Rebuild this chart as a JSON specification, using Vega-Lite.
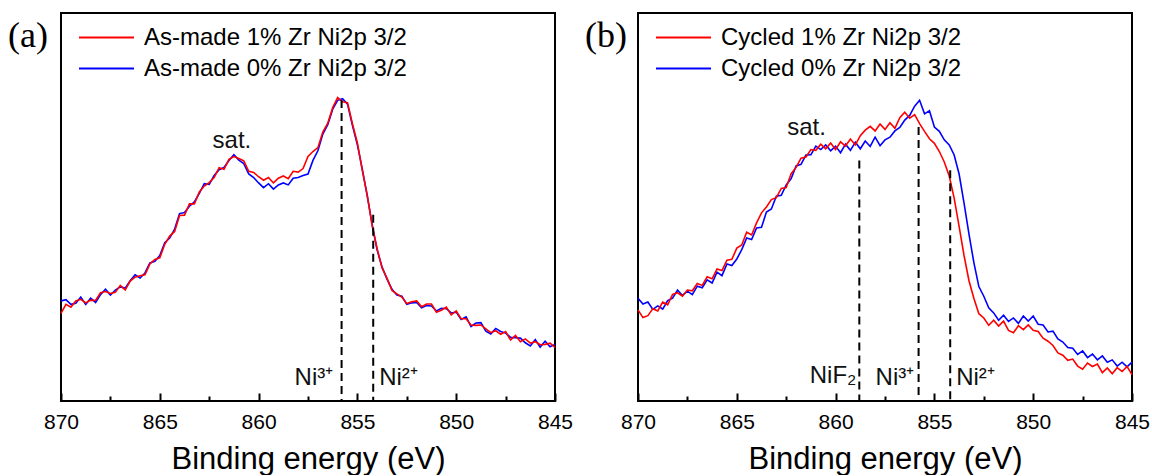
{
  "$schema": "https://vega.github.io/schema/vega-lite/v6.json",
  "background": "white",
  "padding": {"left": 7, "top": 12, "right": 2, "bottom": 0},
  "spacing": 83,
  "bounds": "flush",
  "resolve": {"scale": {"color": "independent"}, "legend": {"color": "independent"}},
  "config": {
    "view": {"stroke": "black", "strokeWidth": 2},
    "font": "Liberation Sans",
    "axis": {"grid": false, "labelColor": "black", "titleColor": "black"}
  },
  "datasets": {
    "xps": [
      {"E":870,"a1":22.6,"a0":25.8,"b1":23.5,"b0":26.5},
      {"E":869.75,"a1":24.9,"a0":26.1,"b1":21.5,"b0":25.0},
      {"E":869.5,"a1":24.2,"a0":24.9,"b1":22.0,"b0":25.5},
      {"E":869.25,"a1":25.8,"a0":25.2,"b1":23.8,"b0":23.6},
      {"E":869,"a1":26.2,"a0":26.8,"b1":23.2,"b0":24.5},
      {"E":868.75,"a1":25.3,"a0":24.9,"b1":25.5,"b0":23.7},
      {"E":868.5,"a1":26.0,"a0":26.5,"b1":24.8,"b0":25.9},
      {"E":868.25,"a1":25.9,"a0":25.4,"b1":27.5,"b0":26.5},
      {"E":868,"a1":27.9,"a0":27.4,"b1":27.9,"b0":28.6},
      {"E":867.75,"a1":28.2,"a0":28.8,"b1":27.0,"b0":27.2},
      {"E":867.5,"a1":27.7,"a0":27.3,"b1":28.6,"b0":28.3},
      {"E":867.25,"a1":28.0,"a0":28.6,"b1":28.4,"b0":27.4},
      {"E":867,"a1":29.8,"a0":29.4,"b1":30.3,"b0":29.6},
      {"E":866.75,"a1":28.6,"a0":29.1,"b1":29.8,"b0":29.2},
      {"E":866.5,"a1":30.9,"a0":31.0,"b1":32.0,"b0":31.2},
      {"E":866.25,"a1":31.9,"a0":32.5,"b1":31.5,"b0":30.4},
      {"E":866,"a1":32.3,"a0":31.7,"b1":34.0,"b0":33.2},
      {"E":865.75,"a1":32.5,"a0":33.0,"b1":33.6,"b0":32.3},
      {"E":865.5,"a1":35.3,"a0":35.6,"b1":36.3,"b0":35.3},
      {"E":865.25,"a1":36.5,"a0":36.0,"b1":36.5,"b0":34.9},
      {"E":865,"a1":36.9,"a0":37.5,"b1":39.4,"b0":36.6},
      {"E":864.75,"a1":40.4,"a0":40.8,"b1":40.2,"b0":39.0},
      {"E":864.5,"a1":42.5,"a0":42.0,"b1":43.5,"b0":42.0},
      {"E":864.25,"a1":43.7,"a0":44.3,"b1":42.8,"b0":41.6},
      {"E":864,"a1":47.8,"a0":48.3,"b1":45.9,"b0":44.6},
      {"E":863.75,"a1":47.9,"a0":48.6,"b1":48.5,"b0":44.8},
      {"E":863.5,"a1":50.8,"a0":50.2,"b1":50.0,"b0":48.7},
      {"E":863.25,"a1":50.8,"a0":51.3,"b1":51.9,"b0":49.5},
      {"E":863,"a1":53.9,"a0":53.5,"b1":52.4,"b0":52.8},
      {"E":862.75,"a1":55.4,"a0":56.0,"b1":54.8,"b0":53.0},
      {"E":862.5,"a1":56.3,"a0":55.8,"b1":55.0,"b0":55.7},
      {"E":862.25,"a1":57.6,"a0":58.1,"b1":58.6,"b0":57.3},
      {"E":862,"a1":60.1,"a0":59.6,"b1":60.2,"b0":60.6},
      {"E":861.75,"a1":59.7,"a0":60.2,"b1":62.6,"b0":61.0},
      {"E":861.5,"a1":62.3,"a0":62.0,"b1":62.9,"b0":63.4},
      {"E":861.25,"a1":63.0,"a0":63.5,"b1":64.8,"b0":63.5},
      {"E":861,"a1":62.5,"a0":62.1,"b1":64.6,"b0":65.7},
      {"E":860.75,"a1":61.9,"a0":61.2,"b1":66.2,"b0":64.8},
      {"E":860.5,"a1":59.2,"a0":58.5,"b1":65.0,"b0":66.0},
      {"E":860.25,"a1":58.9,"a0":57.6,"b1":66.5,"b0":64.5},
      {"E":860,"a1":57.8,"a0":56.2,"b1":64.8,"b0":65.7},
      {"E":859.75,"a1":56.9,"a0":55.0,"b1":66.8,"b0":64.0},
      {"E":859.5,"a1":57.6,"a0":56.0,"b1":65.7,"b0":66.2},
      {"E":859.25,"a1":56.2,"a0":54.6,"b1":67.5,"b0":64.6},
      {"E":859,"a1":57.4,"a0":55.7,"b1":66.0,"b0":66.7},
      {"E":858.75,"a1":58.0,"a0":56.2,"b1":68.4,"b0":65.0},
      {"E":858.5,"a1":57.3,"a0":55.7,"b1":69.8,"b0":67.0},
      {"E":858.25,"a1":59.2,"a0":57.4,"b1":70.8,"b0":65.6},
      {"E":858,"a1":59.0,"a0":57.6,"b1":69.6,"b0":68.0},
      {"E":857.75,"a1":59.9,"a0":58.1,"b1":71.4,"b0":65.8},
      {"E":857.5,"a1":63.0,"a0":58.5,"b1":70.0,"b0":67.3},
      {"E":857.25,"a1":64.3,"a0":62.0,"b1":71.7,"b0":68.0},
      {"E":857,"a1":65.3,"a0":64.5,"b1":70.3,"b0":69.6},
      {"E":856.75,"a1":69.3,"a0":68.8,"b1":73.0,"b0":70.5},
      {"E":856.5,"a1":71.6,"a0":71.2,"b1":74.4,"b0":72.4},
      {"E":856.25,"a1":75.6,"a0":75.2,"b1":72.9,"b0":73.6},
      {"E":856,"a1":78.2,"a0":77.5,"b1":73.8,"b0":76.0},
      {"E":855.75,"a1":77.1,"a0":77.9,"b1":71.5,"b0":77.5},
      {"E":855.5,"a1":76.9,"a0":76.5,"b1":69.5,"b0":74.0},
      {"E":855.25,"a1":71.4,"a0":71.0,"b1":67.6,"b0":74.8},
      {"E":855,"a1":66.5,"a0":66.0,"b1":66.4,"b0":70.6},
      {"E":854.75,"a1":59.4,"a0":59.7,"b1":64.3,"b0":69.5},
      {"E":854.5,"a1":53.0,"a0":52.8,"b1":61.6,"b0":67.3},
      {"E":854.25,"a1":45.1,"a0":45.4,"b1":58.0,"b0":66.0},
      {"E":854,"a1":39.2,"a0":38.9,"b1":52.3,"b0":63.4},
      {"E":853.75,"a1":34.3,"a0":34.5,"b1":45.0,"b0":58.5},
      {"E":853.5,"a1":31.6,"a0":31.4,"b1":37.5,"b0":51.0},
      {"E":853.25,"a1":28.5,"a0":28.8,"b1":31.0,"b0":43.0},
      {"E":853,"a1":27.6,"a0":27.3,"b1":26.4,"b0":35.6},
      {"E":852.75,"a1":26.8,"a0":27.0,"b1":22.5,"b0":29.5},
      {"E":852.5,"a1":25.1,"a0":24.9,"b1":21.4,"b0":27.0},
      {"E":852.25,"a1":25.6,"a0":25.3,"b1":19.5,"b0":24.0},
      {"E":852,"a1":25.8,"a0":25.4,"b1":20.8,"b0":22.7},
      {"E":851.75,"a1":24.3,"a0":24.0,"b1":19.3,"b0":20.8},
      {"E":851.5,"a1":25.0,"a0":24.6,"b1":20.6,"b0":22.1},
      {"E":851.25,"a1":25.0,"a0":24.5,"b1":18.2,"b0":20.5},
      {"E":851,"a1":22.9,"a0":23.2,"b1":17.6,"b0":21.4},
      {"E":850.75,"a1":23.4,"a0":23.9,"b1":19.4,"b0":20.0},
      {"E":850.5,"a1":24.2,"a0":23.8,"b1":18.4,"b0":21.9},
      {"E":850.25,"a1":22.2,"a0":22.7,"b1":19.6,"b0":20.6},
      {"E":850,"a1":23.2,"a0":22.9,"b1":18.2,"b0":21.9},
      {"E":849.75,"a1":21.2,"a0":21.0,"b1":17.9,"b0":19.8},
      {"E":849.5,"a1":21.2,"a0":21.7,"b1":16.2,"b0":19.6},
      {"E":849.25,"a1":19.6,"a0":19.2,"b1":15.4,"b0":17.8},
      {"E":849,"a1":19.5,"a0":20.1,"b1":14.3,"b0":18.0},
      {"E":848.75,"a1":19.6,"a0":20.2,"b1":12.4,"b0":16.0},
      {"E":848.5,"a1":18.6,"a0":18.0,"b1":11.8,"b0":15.2},
      {"E":848.25,"a1":17.6,"a0":17.3,"b1":10.5,"b0":13.8},
      {"E":848,"a1":18.1,"a0":18.7,"b1":10.8,"b0":13.6},
      {"E":847.75,"a1":17.2,"a0":17.9,"b1":9.0,"b0":12.0},
      {"E":847.5,"a1":17.9,"a0":17.5,"b1":8.2,"b0":12.9},
      {"E":847.25,"a1":15.7,"a0":16.4,"b1":9.8,"b0":11.2},
      {"E":847,"a1":16.9,"a0":16.3,"b1":8.9,"b0":12.1},
      {"E":846.75,"a1":15.3,"a0":16.2,"b1":9.5,"b0":10.6},
      {"E":846.5,"a1":16.0,"a0":15.0,"b1":7.3,"b0":11.6},
      {"E":846.25,"a1":14.9,"a0":14.2,"b1":8.5,"b0":10.0},
      {"E":846,"a1":15.3,"a0":15.8,"b1":7.0,"b0":10.6},
      {"E":845.75,"a1":14.5,"a0":13.9,"b1":8.6,"b0":9.0},
      {"E":845.5,"a1":14.6,"a0":15.4,"b1":7.6,"b0":10.0},
      {"E":845.25,"a1":14.9,"a0":14.0,"b1":8.9,"b0":8.8},
      {"E":845,"a1":13.8,"a0":14.6,"b1":6.8,"b0":10.0}
    ],
    "peaks_a": [
      {"E":855.8,"top":77.6},
      {"E":854.2,"top":48}
    ],
    "peaks_b": [
      {"E":858.8,"top":62},
      {"E":855.8,"top":70.6},
      {"E":854.2,"top":59.5}
    ],
    "labels_a": [
      {"E":861.35,"v":65.2,"label":"sat."},
      {"E":857.2,"v":4.1,"label":"Ni³⁺"},
      {"E":852.92,"v":4.1,"label":"Ni²⁺"}
    ],
    "labels_b": [
      {"E":861.47,"v":68.6,"label":"sat."},
      {"E":860.13,"v":4.6,"label":"NiF₂"},
      {"E":857.0,"v":4.1,"label":"Ni³⁺"},
      {"E":852.92,"v":4.1,"label":"Ni²⁺"}
    ]
  },
  "hconcat": [
    {
      "width": 494,
      "height": 388,
      "title": {"text": "(a)", "anchor": "start", "frame": "group", "orient": "none", "dx": -53, "dy": 34, "baseline": "alphabetic", "font": "Liberation Serif", "fontSize": 36, "fontWeight": "normal", "color": "black"},
      "resolve": {"axis": {"x": "independent"}},
      "layer": [
        {
          "data": {"name": "xps"},
          "transform": [{"fold": ["a1", "a0"], "as": ["series", "v"]}, {"filter": "datum.series == 'a0'"}],
          "mark": {"type": "line", "strokeWidth": 1.6},
          "encoding": {
            "x": {"field": "E", "type": "quantitative",
              "scale": {"domain": [845, 870], "reverse": true, "nice": false, "zero": false},
              "axis": {"orient": "bottom", "values": [870, 865, 860, 855, 850, 845], "format": "d", "tickSize": -8, "tickWidth": 2, "tickColor": "black", "domain": false, "labelFontSize": 21, "labelPadding": 18, "labelFlush": false, "labelOverlap": false, "title": "Binding energy (eV)", "titleFontSize": 31, "titleFontWeight": "normal", "titlePadding": 12}},
            "y": {"field": "v", "type": "quantitative",
              "scale": {"domain": [0, 100], "nice": false, "zero": false},
              "axis": null},
            "color": {"field": "series", "type": "nominal",
              "scale": {"domain": ["a1", "a0"], "range": ["#ff0000", "#0000ff"]},
              "legend": {"title": null, "orient": "none", "legendX": 17, "legendY": 10, "symbolType": "stroke", "symbolSize": 3025, "symbolStrokeWidth": 2, "labelFontSize": 24, "labelColor": "black", "clipHeight": 29, "rowPadding": 2, "labelOffset": 9, "padding": 0, "labelLimit": 500,
                "labelExpr": "datum.label == 'a1' ? 'As-made 1% Zr Ni2p 3/2' : 'As-made 0% Zr Ni2p 3/2'"}}
          }
        },
        {
          "data": {"name": "xps"},
          "transform": [{"fold": ["a1", "a0"], "as": ["series", "v"]}, {"filter": "datum.series == 'a1'"}],
          "mark": {"type": "line", "strokeWidth": 1.6},
          "encoding": {
            "x": {"field": "E", "type": "quantitative", "axis": null},
            "y": {"field": "v", "type": "quantitative", "axis": null},
            "color": {"field": "series", "type": "nominal", "legend": null}
          }
        },
        {
          "data": {"name": "peaks_a"},
          "mark": {"type": "rule", "strokeDash": [8, 5], "strokeWidth": 2, "color": "black"},
          "encoding": {
            "x": {"field": "E", "type": "quantitative",
              "axis": {"orient": "bottom", "values": [867.5, 862.5, 857.5, 852.5, 847.5], "tickSize": -5, "tickWidth": 2, "tickColor": "black", "labels": false, "domain": false, "title": null}},
            "y": {"field": "top", "type": "quantitative", "axis": null},
            "y2": {"datum": 0}
          }
        },
        {
          "data": {"name": "labels_a"},
          "mark": {"type": "text", "fontSize": 24, "color": "#111111", "align": "center", "baseline": "alphabetic"},
          "encoding": {
            "x": {"field": "E", "type": "quantitative", "axis": null},
            "y": {"field": "v", "type": "quantitative", "axis": null},
            "text": {"field": "label"}
          }
        }
      ]
    },
    {
      "width": 494,
      "height": 388,
      "title": {"text": "(b)", "anchor": "start", "frame": "group", "orient": "none", "dx": -53, "dy": 34, "baseline": "alphabetic", "font": "Liberation Serif", "fontSize": 36, "fontWeight": "normal", "color": "black"},
      "resolve": {"axis": {"x": "independent"}},
      "layer": [
        {
          "data": {"name": "xps"},
          "transform": [{"fold": ["b1", "b0"], "as": ["series", "v"]}, {"filter": "datum.series == 'b0'"}],
          "mark": {"type": "line", "strokeWidth": 1.6},
          "encoding": {
            "x": {"field": "E", "type": "quantitative",
              "scale": {"domain": [845, 870], "reverse": true, "nice": false, "zero": false},
              "axis": {"orient": "bottom", "values": [870, 865, 860, 855, 850, 845], "format": "d", "tickSize": -8, "tickWidth": 2, "tickColor": "black", "domain": false, "labelFontSize": 21, "labelPadding": 18, "labelFlush": false, "labelOverlap": false, "title": "Binding energy (eV)", "titleFontSize": 31, "titleFontWeight": "normal", "titlePadding": 12}},
            "y": {"field": "v", "type": "quantitative",
              "scale": {"domain": [0, 100], "nice": false, "zero": false},
              "axis": null},
            "color": {"field": "series", "type": "nominal",
              "scale": {"domain": ["b1", "b0"], "range": ["#ff0000", "#0000ff"]},
              "legend": {"title": null, "orient": "none", "legendX": 17, "legendY": 10, "symbolType": "stroke", "symbolSize": 3025, "symbolStrokeWidth": 2, "labelFontSize": 24, "labelColor": "black", "clipHeight": 29, "rowPadding": 2, "labelOffset": 9, "padding": 0, "labelLimit": 500,
                "labelExpr": "datum.label == 'b1' ? 'Cycled 1% Zr Ni2p 3/2' : 'Cycled 0% Zr Ni2p 3/2'"}}
          }
        },
        {
          "data": {"name": "xps"},
          "transform": [{"fold": ["b1", "b0"], "as": ["series", "v"]}, {"filter": "datum.series == 'b1'"}],
          "mark": {"type": "line", "strokeWidth": 1.6},
          "encoding": {
            "x": {"field": "E", "type": "quantitative", "axis": null},
            "y": {"field": "v", "type": "quantitative", "axis": null},
            "color": {"field": "series", "type": "nominal", "legend": null}
          }
        },
        {
          "data": {"name": "peaks_b"},
          "mark": {"type": "rule", "strokeDash": [8, 5], "strokeWidth": 2, "color": "black"},
          "encoding": {
            "x": {"field": "E", "type": "quantitative",
              "axis": {"orient": "bottom", "values": [867.5, 862.5, 857.5, 852.5, 847.5], "tickSize": -5, "tickWidth": 2, "tickColor": "black", "labels": false, "domain": false, "title": null}},
            "y": {"field": "top", "type": "quantitative", "axis": null},
            "y2": {"datum": 0}
          }
        },
        {
          "data": {"name": "labels_b"},
          "mark": {"type": "text", "fontSize": 24, "color": "#111111", "align": "center", "baseline": "alphabetic"},
          "encoding": {
            "x": {"field": "E", "type": "quantitative", "axis": null},
            "y": {"field": "v", "type": "quantitative", "axis": null},
            "text": {"field": "label"}
          }
        }
      ]
    }
  ]
}
